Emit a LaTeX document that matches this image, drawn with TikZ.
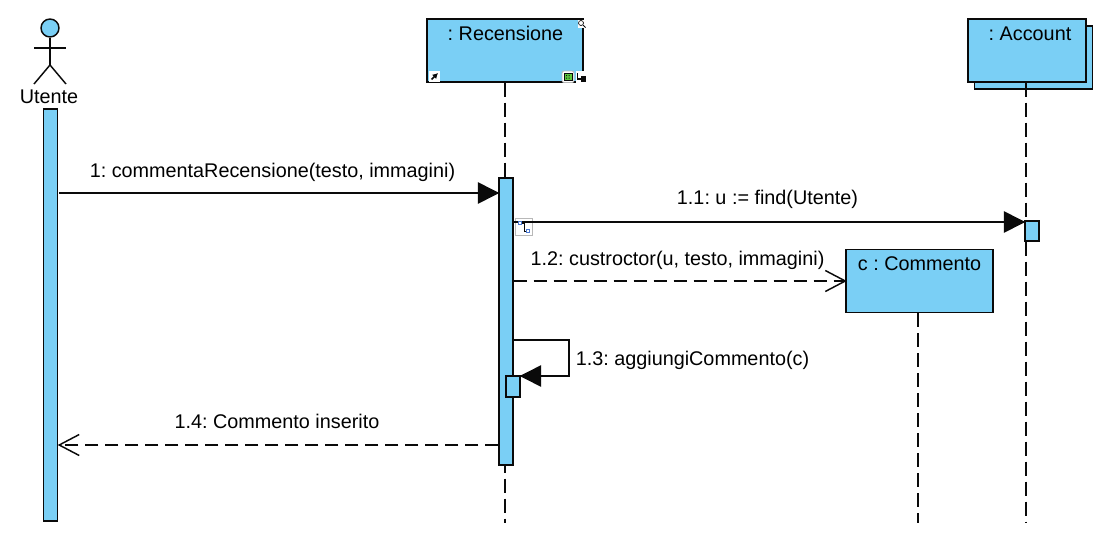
\documentclass[tikz,border=0pt]{standalone}
\usepackage{fontspec}
\setmainfont{Liberation Sans}
\usetikzlibrary{arrows.meta}
\definecolor{umlfill}{HTML}{7ACFF5}
\definecolor{umlline}{HTML}{0A0A0A}
\definecolor{hgray}{HTML}{B8B8B8}
\definecolor{hblue}{HTML}{4A78D0}
\definecolor{hgreen}{HTML}{5CC83C}
\tikzset{
  umlbox/.style={draw=umlline,fill=umlfill,line width=1.1pt,rectangle,inner sep=0pt},
  bar/.style={umlbox,minimum width=10.5pt},
  title/.style={inner sep=0pt,font=\fontsize{14.85pt}{18pt}\selectfont,text=black},
  lbl/.style={inner sep=0pt,font=\fontsize{14.85pt}{18pt}\selectfont,text=black},
  life/.style={draw=umlline,line width=1.1pt,dash pattern=on 10.5pt off 4.5pt},
  syncmsg/.style={draw=umlline,line width=1.1pt,shorten >=-0.75pt,-{Triangle[length=16pt,width=16pt]}},
  replymsg/.style={draw=umlline,line width=1.1pt,dash pattern=on 9.75pt off 5.25pt},
  barb/.style={draw=umlline,line width=1.1pt,line join=miter},
  stick/.style={draw=umlline,line width=1.1pt},
}
\begin{document}
\frenchspacing
\begin{tikzpicture}[x=0.75pt,y=-0.75pt]
\useasboundingbox (0,0) rectangle (1117,557);
% actor
\node[umlbox,circle,minimum size=13.5pt] (head) at (50,28) {};
\coordinate (hip) at (50,65);
\coordinate (armL) at (34,48);
\coordinate (armR) at (66,48);
\coordinate (legL) at (34,84);
\coordinate (legR) at (66,84);
\draw[stick] (head.south) -- (hip);
\draw[stick] (armL) -- (armR);
\draw[stick] (legL) -- (hip) -- (legR);
\node[title] (utente) at (49,97) {Utente};
\node[bar,minimum height=309pt] (a1) at (50.5,315) {};
% lifelines
\node[umlbox,minimum width=117pt,minimum height=47.25pt] (rec) at (505,50.5) {};
\node[title,anchor=base] (rect) at (505.5,40) {: Recensione};
\coordinate (recEnd) at (505,523);
\node[umlbox,minimum width=88.5pt,minimum height=47.25pt] (accb) at (1033.5,57.5) {};
\node[umlbox,minimum width=88.5pt,minimum height=47.25pt] (acc) at (1027,50.5) {};
\node[title,anchor=base] (acct) at (1030,40) {: Account};
\coordinate (accEnd) at (1026,523);
\node[umlbox,minimum width=110.25pt,minimum height=47.25pt] (com) at (919.5,281) {};
\node[title,anchor=base] (comt) at (919.5,270) {c : Commento};
\coordinate (comEnd) at (918,523);
\draw[life] (com.south -| comEnd) -- (comEnd);
% activations
\node[bar,minimum height=215.25pt] (a2) at (506,321.5) {};
\draw[life] (rec.south) -- (recEnd |- a2.north);
\draw[life,dash phase=5.25pt] (recEnd |- a2.south) -- (recEnd);
\node[bar,minimum height=15pt] (a3) at (1032,231) {};
\draw[life] (acc.south -| accEnd) -- (accEnd |- a3.north);
\draw[life] (accEnd |- a3.south) -- (accEnd);
\node[bar,minimum height=15.75pt] (a4) at (513,386.5) {};
% combined-fragment marker
\draw[hgray,line width=.5pt,fill=white] (515,218.5) rectangle (532.5,235);
% messages
\draw[syncmsg,shorten <=0.75pt] (a1.east |- 0,193) -- (a2.west |- 0,193);
\node[lbl,anchor=base] (m1) at (272.5,177) {1: commentaRecensione(testo, immagini)};
\draw[syncmsg] (a2.east |- 0,222) -- (a3.west |- 0,222);
\node[lbl,anchor=base] (m2) at (767.5,204) {1.1: u := find(Utente)};
\coordinate (tipC) at (com.west |- 0,281);
\draw[replymsg] (a2.east |- tipC) -- (tipC);
\draw[barb] ([shift={(-20,-10.5)}]tipC) -- (tipC) -- ([shift={(-20,10.5)}]tipC);
\node[lbl,anchor=base] (m3) at (677.5,265.5) {1.2: custroctor(u, testo, immagini)};
\coordinate (selfA) at (569,340);
\coordinate (selfB) at (569,376);
\draw[syncmsg] (a2.east |- selfA) -- (selfA) -- (selfB) -- (a4.east |- selfB);
\node[lbl,anchor=base] (m4) at (692.5,365.5) {1.3: aggiungiCommento(c)};
\coordinate (tipA) at ([xshift=0.75pt]a1.east |- 0,445);
\draw[replymsg] (a2.west |- tipA) -- (tipA);
\draw[barb] ([shift={(20,-10.5)}]tipA) -- (tipA) -- ([shift={(20,10.5)}]tipA);
\node[lbl,anchor=base] (m5) at (277,428.5) {1.4: Commento inserito};
% marker detail
\draw[umlline,line width=.6pt] (520,223) -- (524,223) -- (524,231) -- (528,231);
\draw[hblue,line width=.5pt,fill=white] (518.5,221.5) rectangle (521.5,224.5);
\draw[hblue,line width=.5pt,fill=white] (526.5,229.5) rectangle (529.5,232.5);
% decorations on : Recensione
\fill[white] (578,20) rectangle (586,28);
\draw[umlline,line width=.5pt] (581,23) circle (2.5);
\draw[umlline,line width=.7pt] (583,25) -- (585.5,27.5);
\fill[white] (429,71) rectangle (440,82);
\draw[umlline,line width=1.1pt,-{Latex[length=4pt,width=4.5pt]}] (431.5,79.5) -- (438,73);
\draw[hgray,line width=.6pt,fill=white,rounded corners=1.5pt] (562,71) rectangle (574,82.5);
\fill[hgreen,draw=umlline,line width=.4pt] (564,73) rectangle (572,80.5);
\fill[umlline] (566,75) rectangle (567,76) (568.5,75) rectangle (569.5,76) (566,77.5) rectangle (567,78.5) (568.5,77.5) rectangle (569.5,78.5);
\fill[white] (576,71) rectangle (587,83);
\draw[umlline,line width=.9pt] (577.5,73) -- (577.5,79) -- (582,79);
\fill[umlline] (581,76) rectangle (586,82);
\end{tikzpicture}
\end{document}
